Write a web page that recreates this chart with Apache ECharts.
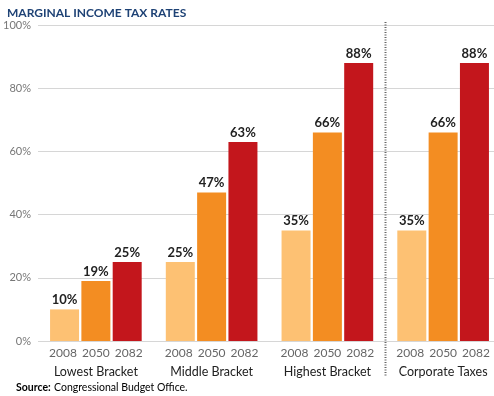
<!DOCTYPE html>
<html>
<head>
<meta charset="utf-8">
<script src="https://cdn.jsdelivr.net/npm/echarts@6/dist/echarts.min.js"></script>
<style>
  html, body { margin: 0; padding: 0; background: #fff; }
  #chart { width: 494px; height: 396px; }
</style>
</head>
<body>
<div id="chart"></div>
<script>
// data
const groups = ['Lowest Bracket', 'Middle Bracket', 'Highest Bracket', 'Corporate Taxes'];
const years = ['2008', '2050', '2082'];
const rates2008 = [10, 25, 35, 35];
const rates2050 = [19, 47, 66, 66];
const rates2082 = [25, 63, 88, 88];
const yTicks = [0, 20, 40, 60, 80, 100];

const colors = ['#FDC173', '#F38D22', '#C3161C'];
const seriesData = [rates2008, rates2050, rates2082];

const chart = echarts.init(document.getElementById('chart'));

const option = {
  animation: false,
  textStyle: { fontFamily: 'Lato, sans-serif' },
  title: {
    text: 'MARGINAL INCOME TAX RATES',
    left: 2,
    top: 2,
    textStyle: { fontFamily: 'Lato', fontSize: 12, fontWeight: 'bold', color: '#1E4275' }
  },
  grid: { left: 38, top: 25, width: 463, bottom: 55, containLabel: false, outerBoundsMode: 'none' },
  xAxis: {
    type: 'category',
    data: groups,
    axisLine: { show: false },
    axisTick: { show: false },
    axisLabel: {
      interval: 0,
      margin: 4,
      formatter: (name) => years.map(y => '{y|' + y + '}').join('') + '\n{g|' + name + '}',
      rich: {
        y: { padding: [0, 2.5], fontSize: 12, color: '#666', fontFamily: 'Lato', lineHeight: 17 },
        g: { fontSize: 12.5, color: '#222', fontFamily: 'Lato', lineHeight: 19 }
      }
    }
  },
  yAxis: {
    type: 'value',
    min: 0,
    max: 100,
    interval: 20,
    axisLine: { show: false },
    axisTick: { show: false },
    axisLabel: {
      margin: 7,
      fontSize: 11,
      color: '#777',
      formatter: (v) => yTicks.includes(v) ? v + '%' : ''
    },
    splitLine: { lineStyle: { color: '#d6d6d6', width: 1 } }
  },
  series: seriesData.map((d, i) => ({
    name: years[i],
    type: 'bar',
    data: d,
    barWidth: 29,
    barGap: '8%',
    itemStyle: { color: colors[i] },
    label: {
      show: true,
      position: 'top',
      distance: 3,
      formatter: '{c}%',
      fontSize: 13,
      fontWeight: 'bold',
      color: '#222',
      fontFamily: 'Lato'
    }
  }))
};

chart.setOption(option);

// dotted separator between Highest Bracket and Corporate Taxes
const x2 = chart.convertToPixel({ xAxisIndex: 0 }, groups[2]);
const x3 = chart.convertToPixel({ xAxisIndex: 0 }, groups[3]);
const sepX = Math.round((x2 + x3) / 2) + 0.5;
const yTop = chart.convertToPixel({ yAxisIndex: 0 }, 100);

chart.setOption({
  graphic: [
    {
      type: 'line',
      shape: { x1: sepX, y1: yTop - 3, x2: sepX, y2: 376 },
      style: { stroke: '#666', lineWidth: 2, lineDash: [1, 1.5] },
      z: 10
    },
    {
      type: 'text',
      left: 16,
      top: 382,
      style: {
        text: '{b|Source:} {n|Congressional Budget Office.}',
        rich: {
          b: { fontFamily: 'Lato', fontSize: 10.5, fontWeight: 'bold', color: '#1E4275' },
          n: { fontFamily: 'Lato', fontSize: 10.5, color: '#555' }
        }
      }
    }
  ]
});
</script>
</body>
</html>
